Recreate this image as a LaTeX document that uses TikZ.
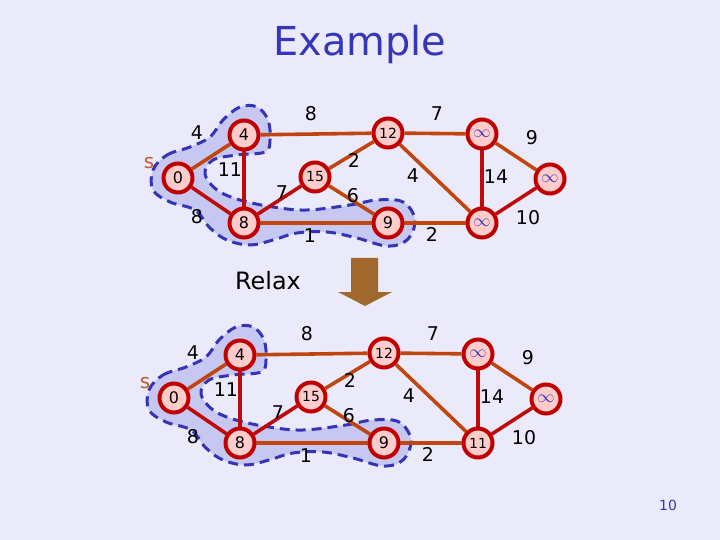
\documentclass[tikz,border=0pt]{standalone}
\usepackage{fontspec}
\setmainfont{DejaVu Sans}
\definecolor{bgcolor}{HTML}{EAEAFA}
\definecolor{ringred}{HTML}{C00000}
\definecolor{nodefill}{HTML}{FFCCCC}
\definecolor{edgeorange}{HTML}{C0450F}
\definecolor{edgered}{HTML}{BE0A0A}
\definecolor{setblue}{HTML}{3434B4}
\definecolor{setfill}{HTML}{C6C8F2}
\definecolor{titleblue}{HTML}{3636B8}
\definecolor{arrowbrown}{HTML}{A0682C}
\definecolor{srcorange}{HTML}{C05A28}
\tikzset{
  vertex/.style={
    circle,
    draw=ringred,
    fill=nodefill,
    line width=4pt,
    minimum size=29bp,
    inner sep=0pt,
    font=\fontsize{16}{16}\selectfont
  },
  infty/.style={vertex, text=setblue, font=\fontsize{16}{16}\selectfont},
  light/.style={draw=edgeorange, line width=3.6pt},
  heavy/.style={draw=edgered, line width=3.6pt},
  weight/.style={font=\fontsize{19}{19}\selectfont, inner sep=0pt},
  srcname/.style={font=\fontsize{20}{20}\selectfont, text=srcorange, inner sep=0pt},
  blob/.style={fill=setfill, draw=setblue, line width=3pt, dash pattern=on 10pt off 6pt}
}

% one snapshot of the graph; #1 = value of the lower infinity vertex
\newcommand{\examplegraph}[1]{
  % settled vertices
  \path[blob] plot[smooth cycle, tension=0.6] coordinates {
    (153,170) (167,155) (190,147) (210,137) (223,120) (240,107) (257,107)
    (268,120) (270,140) (265,152) (237,155) (213,160) (205,174) (217,190)
    (240,200) (273,207) (307,210) (350,205) (377,200) (403,202) (415,220)
    (407,240) (387,246) (357,238) (327,232) (297,233) (273,240) (250,245)
    (227,240) (210,228) (195,210) (170,202) (153,190)};

  % vertices
  \node[vertex] (n0) at (178,178) {0};
  \node[vertex] (n4) at (244,135) {4};
  \node[vertex] (n8) at (244,223) {8};
  \node[vertex, font=\fontsize{14}{14}\selectfont] (n15) at (315,177) {15};
  \node[vertex, font=\fontsize{14}{14}\selectfont] (n12) at (388,133) {12};
  \node[vertex] (n9) at (388,223) {9};
  \node[infty] (ninf) at (482,134) {$\infty$};
  \node[infty] (einf) at (550,179) {$\infty$};
  \node[infty] (sinf) at (482,223) {#1};

  % edges
  \draw[light] (n0) -- (n4);
  \draw[heavy] (n0) -- (n8);
  \draw[heavy] (n4) -- (n8);
  \draw[light] (n4) -- (n12);
  \draw[heavy] (n8) -- (n15);
  \draw[light] (n8) -- (n9);
  \draw[light] (n15) -- (n12);
  \draw[light] (n15) -- (n9);
  \draw[light] (n12) -- (ninf);
  \draw[light] (n12) -- (sinf);
  \draw[light] (n9) -- (sinf);
  \draw[heavy] (ninf) -- (sinf);
  \draw[light] (ninf) -- (einf);
  \draw[heavy] (sinf) -- (einf);

  % weights
  \node[srcname] (src) at (149,163) {s};
  \node[weight] (w04) at (197,133) {4};
  \node[weight] (w08) at (197,217) {8};
  \node[weight] (w48) at (230,170) {11};
  \node[weight] (w412) at (311,114) {8};
  \node[weight] (w815) at (282,193) {7};
  \node[weight] (w89) at (310,236) {1};
  \node[weight] (w1512) at (354,160) {2};
  \node[weight] (w159) at (353,196) {6};
  \node[weight] (w12s) at (413,176) {4};
  \node[weight] (w12n) at (437,114) {7};
  \node[weight] (w9s) at (432,234) {2};
  \node[weight] (wns) at (496,177) {14};
  \node[weight] (wne) at (532,138) {9};
  \node[weight] (wse) at (528,218) {10};
}

\begin{document}
\begin{tikzpicture}[x=1bp,y=-1bp]
  \fill[bgcolor] (0,0) rectangle (720,540);
  \useasboundingbox (0,0) rectangle (720,540);

  \node[font=\fontsize{40}{40}\selectfont, text=titleblue] (title) at (360,45) {Example};

  % before relaxing
  \begin{scope}[name prefix=top-]
    \examplegraph{$\infty$}
  \end{scope}

  % relax step
  \node[font=\fontsize{24}{24}\selectfont] (relax) at (268,281) {Relax};
  \fill[arrowbrown] (351,258) -- (378,258) -- (378,292) -- (392,292)
    -- (365,306) -- (338,292) -- (351,292) -- cycle;

  % after relaxing
  \begin{scope}[shift={(-4,220)}, name prefix=bot-]
    \examplegraph{\textcolor{black}{\fontsize{14}{14}\selectfont 11}}
  \end{scope}

  \node[font=\fontsize{14}{14}\selectfont, text=titleblue] (page) at (668,505) {10};
\end{tikzpicture}
\end{document}
